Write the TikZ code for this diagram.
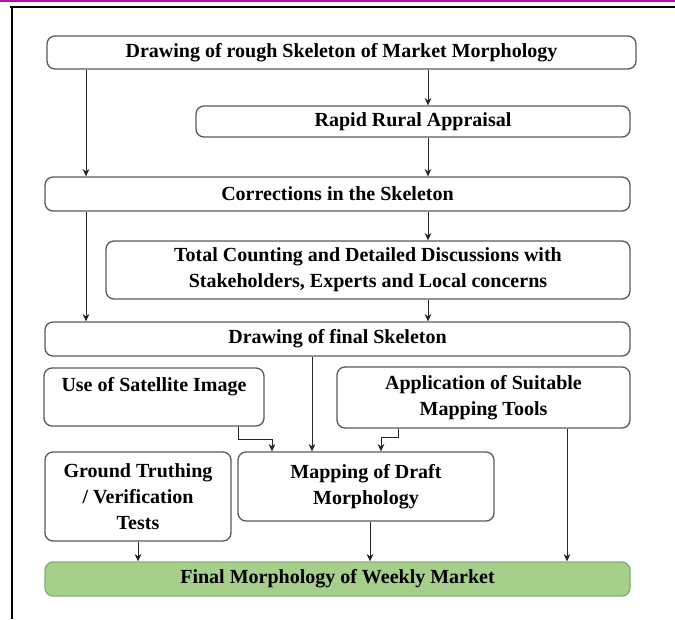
\documentclass[tikz,border=0pt]{standalone}
\usepackage{fontspec}
\setmainfont{Liberation Serif}
\usetikzlibrary{arrows.meta}

\newcommand{\pxu}{0.75pt}
\definecolor{bordacinza}{RGB}{90,90,90}
\definecolor{verdefinal}{RGB}{166,207,140}
\definecolor{verdeborda}{RGB}{130,175,110}
\definecolor{magentatopo}{RGB}{170,20,170}

\tikzset{
	etapa/.style={draw=bordacinza, line width=1pt, rounded corners=6pt, fill=white,
		align=center, inner sep=2pt, font=\bfseries\fontsize{15}{19.5}\selectfont},
	seta/.style={-{Stealth[length=5.5pt,width=5pt]}, line width=0.6pt, black!85}
}

\begin{document}
\begin{tikzpicture}[x=\pxu, y=-\pxu]
		\useasboundingbox (0,0) rectangle (675,619);
		
		% Moldura
		\draw[magentatopo, line width=1.6pt] (0,1) -- (675,1);
		\draw[black, line width=2.2pt] (10,7) -- (675,7);
		\draw[black, line width=2.2pt] (12,6) -- (12,619);
		
		% Etapas
		\node[etapa, minimum width=589*\pxu, minimum height=33*\pxu] (rough) at (341.5,52.5) {Drawing of rough Skeleton of Market Morphology};
		\node[etapa, minimum width=434*\pxu, minimum height=31*\pxu] (rra) at (413,121.5) {Rapid Rural Appraisal};
		\node[etapa, minimum width=585*\pxu, minimum height=34*\pxu] (corr) at (337.5,194) {Corrections in the Skeleton};
		\node[etapa, minimum width=524*\pxu, minimum height=58*\pxu] (total) at (368,270) {Total Counting and Detailed Discussions with\\Stakeholders, Experts and Local concerns};
		\node[etapa, minimum width=585*\pxu, minimum height=34*\pxu] (finalsk) at (337.5,339) {Drawing of final Skeleton};
		\node[etapa, minimum width=220*\pxu, minimum height=58*\pxu] (sat) at (154,397) {Use of Satellite Image\\\mbox{}};
		\node[etapa, minimum width=293*\pxu, minimum height=61*\pxu] (tools) at (483.5,397.5) {Application of Suitable\\Mapping Tools};
		\node[etapa, minimum width=186*\pxu, minimum height=89*\pxu] (ground) at (138,496.5) {Ground Truthing\\/ Verification\\Tests};
		\node[etapa, minimum width=256*\pxu, minimum height=69*\pxu] (draft) at (366,486.5) {Mapping of Draft\\Morphology};
		\node[etapa, draw=verdeborda, fill=verdefinal, minimum width=585*\pxu, minimum height=34*\pxu] (weekly) at (337.5,579) {Final Morphology of Weekly Market};
		
		% Setas
		\draw[seta] (rough.south -| 428,0) -- (rra.north -| 428,0);
		\draw[seta] (rough.south -| 86,0) -- (corr.north -| 86,0);
		\draw[seta] (rra.south -| 428,0) -- (corr.north -| 428,0);
		\draw[seta] (corr.south -| 428,0) -- (total.north -| 428,0);
		\draw[seta] (corr.south -| 86,0) -- (finalsk.north -| 86,0);
		\draw[seta] (total.south -| 428,0) -- (finalsk.north -| 428,0);
		\draw[seta] (finalsk.south -| 312,0) -- (draft.north -| 312,0);
		\draw[seta] (sat.south -| 238,0) |- (272,439) -- (draft.north -| 272,0);
		\draw[seta] (tools.south -| 398,0) |- (381,437) -- (draft.north -| 381,0);
		\draw[seta] (ground.south -| 138,0) -- (weekly.north -| 138,0);
		\draw[seta] (draft.south -| 370,0) -- (weekly.north -| 370,0);
		\draw[seta] (tools.south -| 567,0) -- (weekly.north -| 567,0);
		
	\end{tikzpicture}
\end{document}
